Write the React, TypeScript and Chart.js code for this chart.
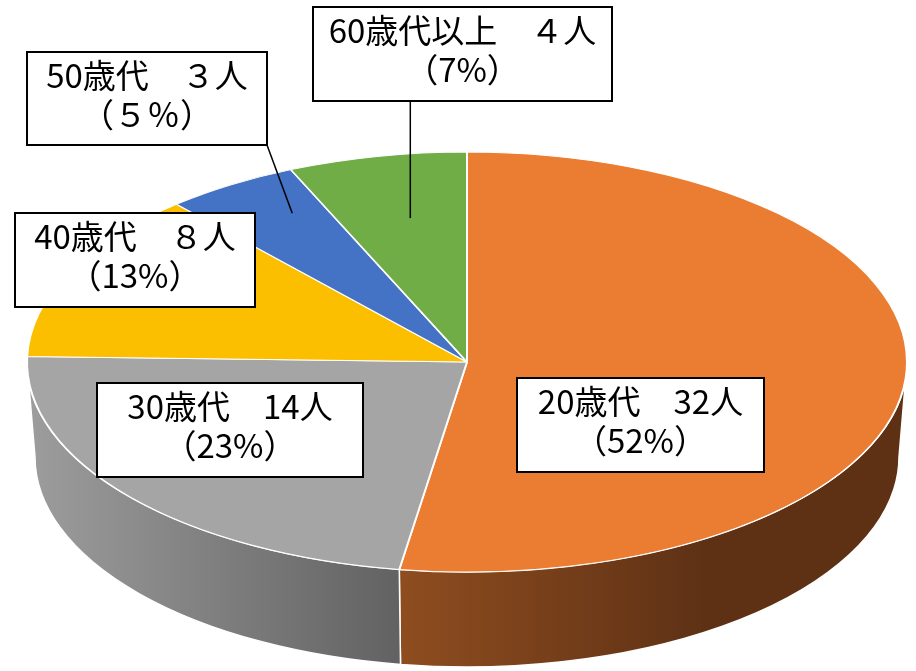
import React, { useEffect, useRef } from 'react';
import { Chart, registerables } from 'chart.js';

Chart.register(...registerables);

// ---- data ----
const categories = ['20歳代', '30歳代', '40歳代', '50歳代', '60歳代以上'];
const counts = [32, 14, 8, 3, 4];
const countLabels = ['32人', '14人', '８人', '３人', '４人'];
const percentLabels = ['（52%）', '（23%）', '（13%）', '（５％）', '（7%）'];
const topColors = ['#EB7D33', '#A5A5A5', '#FCBF00', '#4472C4', '#70AD47'];
const sideLight = ['#8F4D1F', '#9D9D9D', '#A67C00', '#2C4A80', '#4A7230'];
const sideDark = ['#5E3115', '#626262', '#7F6000', '#223962', '#38561F'];

// ---- layout (positions / sizes, not data) ----
const W = 916;
const H = 671;
const RX = 440; // horizontal radius of top face
const TILT = 210 / 440; // vertical squash
const DEPTH = 95; // thickness of the pie
const BOTTOM_SHRINK = 8;
// label boxes: offset of top-left from pie centre, width, height, leader anchor fractions (0 = none)
const labelBoxes = [
  { dx: 50, dy: 16, w: 247, h: 94, fx: 0, fy: 0 },
  { dx: -370, dy: 21, w: 266, h: 94, fx: 0, fy: 0 },
  { dx: -452, dy: -149, w: 240, h: 94, fx: 0, fy: 0 },
  { dx: -440, dy: -310, w: 240, h: 93, fx: 0.74, fy: 0.84 },
  { dx: -154, dy: -355, w: 299, h: 94, fx: 0.63, fy: 0.7 },
];

function visibleRanges(s: number, e: number): [number, number][] {
  const out: [number, number][] = [];
  for (const k of [-1, 0, 1]) {
    const a = Math.max(s + k * 2 * Math.PI, 0);
    const b = Math.min(e + k * 2 * Math.PI, Math.PI);
    if (b > a) out.push([a, b]);
  }
  return out;
}

const pie3d = {
  id: 'pie3d',
  beforeDatasetsDraw(chart: any) {
    const ctx: CanvasRenderingContext2D = chart.ctx;
    const arcs = chart.getDatasetMeta(0).data;
    if (!arcs.length) return;
    const { x: cx, y: cy, outerRadius: R } = arcs[0].getProps(['x', 'y', 'outerRadius'], true);
    const ry = R * TILT;
    const R2 = R - BOTTOM_SHRINK;
    const ry2 = ry;
    ctx.save();
    arcs.forEach((arc: any, i: number) => {
      const { startAngle, endAngle } = arc.getProps(['startAngle', 'endAngle'], true);
      visibleRanges(startAngle, endAngle).forEach(([a, b]) => {
        const xa = cx + R * Math.cos(a);
        const xb = cx + R * Math.cos(b);
        const left = Math.min(xa, xb);
        const right = Math.max(xa, xb);
        const g = ctx.createLinearGradient(left, 0, right, 0);
        g.addColorStop(0, sideLight[i]);
        g.addColorStop(i === 0 ? 0.6 : 1, sideDark[i]);
        g.addColorStop(1, sideDark[i]);
        ctx.beginPath();
        ctx.ellipse(cx, cy, R, ry, 0, a, b, false);
        ctx.lineTo(cx + R2 * Math.cos(b), cy + DEPTH + ry2 * Math.sin(b));
        ctx.ellipse(cx, cy + DEPTH, R2, ry2, 0, b, a, true);
        ctx.closePath();
        ctx.fillStyle = g;
        ctx.fill();
        ctx.lineWidth = 1.5;
        ctx.strokeStyle = '#FFFFFF';
        ctx.stroke();
      });
    });
    ctx.restore();
    ctx.save();
    ctx.translate(cx, cy);
    ctx.scale(1, TILT);
    ctx.translate(-cx, -cy);
  },
  afterDatasetsDraw(chart: any) {
    const ctx: CanvasRenderingContext2D = chart.ctx;
    ctx.restore();
    const arcs = chart.getDatasetMeta(0).data;
    if (!arcs.length) return;
    const { x: cx, y: cy, outerRadius: R } = arcs[0].getProps(['x', 'y', 'outerRadius'], true);
    const ry = R * TILT;
    ctx.save();
    ctx.font = '33px "Noto Sans CJK JP", "Noto Sans", sans-serif';
    ctx.textAlign = 'center';
    ctx.textBaseline = 'alphabetic';
    arcs.forEach((arc: any, i: number) => {
      const box = labelBoxes[i];
      const left = cx + box.dx;
      const top = cy + box.dy;
      if (box.fx > 0) {
        const { startAngle, endAngle } = arc.getProps(['startAngle', 'endAngle'], true);
        const mid = (startAngle + endAngle) / 2;
        const px = cx + R * box.fx * Math.cos(mid);
        const py = cy + ry * box.fy * Math.sin(mid);
        const sx = Math.min(Math.max(px, left), left + box.w);
        const sy = top + box.h;
        ctx.beginPath();
        ctx.moveTo(sx, sy);
        ctx.lineTo(px, py);
        ctx.lineWidth = 1.5;
        ctx.strokeStyle = '#000000';
        ctx.stroke();
      }
      ctx.fillStyle = '#FFFFFF';
      ctx.fillRect(left, top, box.w, box.h);
      ctx.lineWidth = 2;
      ctx.strokeStyle = '#000000';
      ctx.strokeRect(left, top, box.w, box.h);
      ctx.fillStyle = '#000000';
      const mx = left + box.w / 2;
      ctx.fillText(categories[i] + '　' + countLabels[i], mx, top + 36);
      ctx.fillText(percentLabels[i], mx, top + 75);
    });
    ctx.restore();
  },
};

export default function App() {
  const ref = useRef<HTMLCanvasElement | null>(null);
  useEffect(() => {
    if (!ref.current) return;
    const chart = new Chart(ref.current, {
      type: 'pie',
      data: {
        labels: categories,
        datasets: [
          {
            data: counts,
            backgroundColor: topColors,
            borderColor: '#FFFFFF',
            borderWidth: 2,
            radius: RX,
            clip: false,
          } as any,
        ],
      },
      options: {
        responsive: false,
        animation: false,
        events: [],
        layout: { padding: { left: 18, top: 53, right: 0, bottom: 0 } },
        plugins: {
          legend: { display: false },
          tooltip: { enabled: false },
        },
      },
      plugins: [pie3d as any],
    });
    return () => chart.destroy();
  }, []);
  return (
    <div style={{ position: 'absolute', left: 0, top: 0, width: W, height: H, background: '#FFFFFF' }}>
      <canvas ref={ref} width={W} height={H} />
    </div>
  );
}
